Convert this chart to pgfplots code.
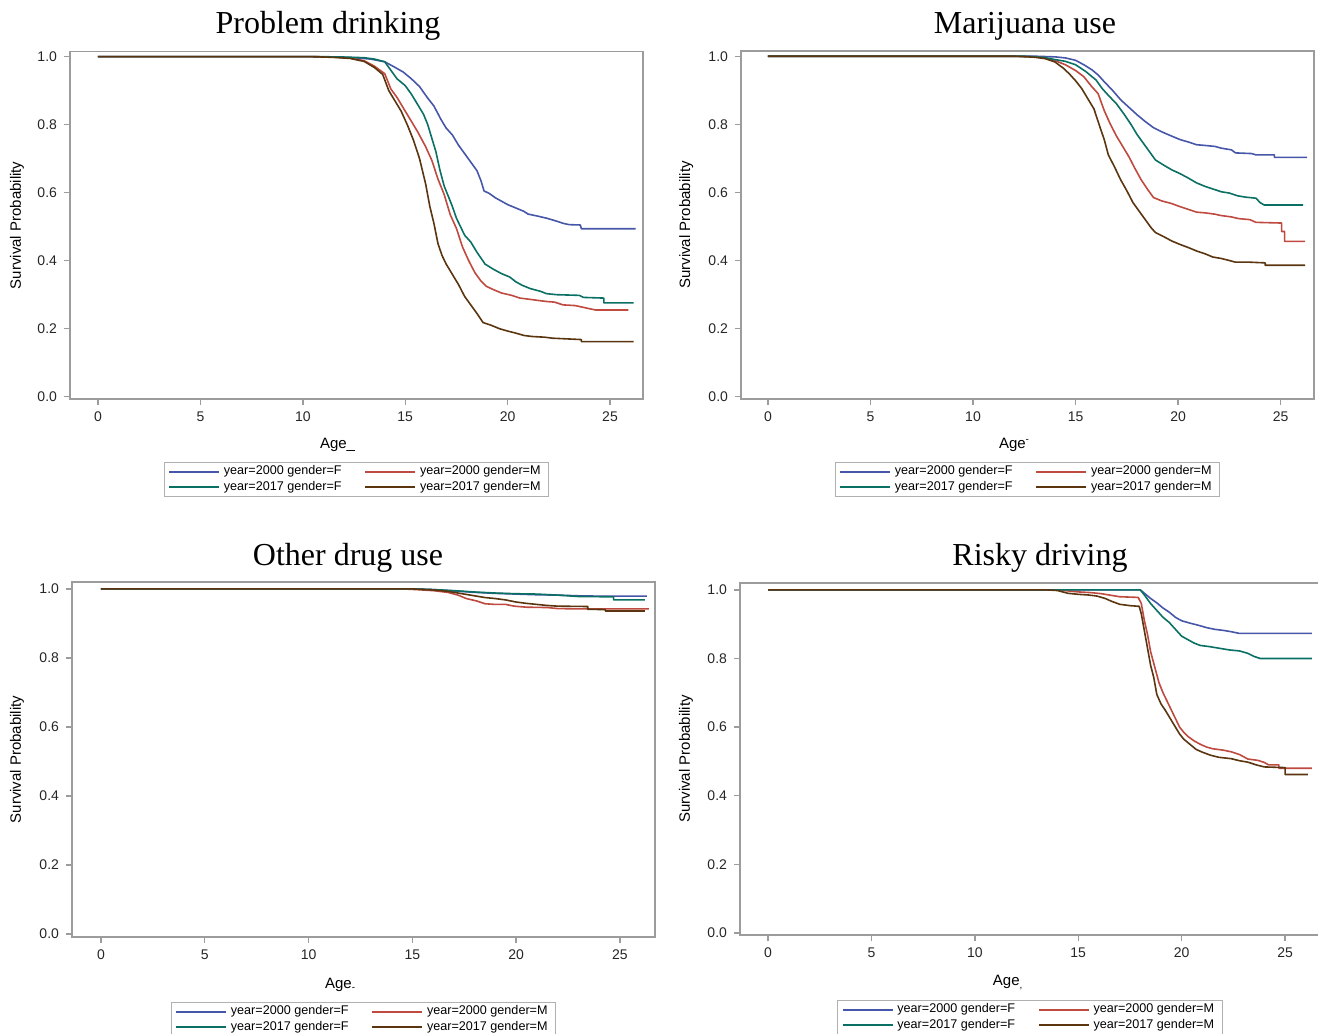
\documentclass[border=0pt]{standalone}
\usepackage{fontspec}
\setmainfont{Liberation Sans}
\newfontfamily\titlefont{Liberation Serif}
\usepackage{pgfplots}
\pgfplotsset{compat=1.18}
\definecolor{cblue}{HTML}{4656A8}
\definecolor{cred}{HTML}{BE4A40}
\definecolor{cgreen}{HTML}{0B7064}
\definecolor{cbrown}{HTML}{5A3510}
\definecolor{framegray}{HTML}{9C9C9C}
\definecolor{leggray}{HTML}{B0B0B0}
\pgfplotsset{
  km/.style={
    scale only axis,
    axis line style={color=framegray, line width=0.9pt},
    xtick={0,5,10,15,20,25},
    ytick={0,0.2,0.4,0.6,0.8,1},
    yticklabel style={/pgf/number format/.cd, fixed, fixed zerofill, precision=1},
    /pgf/number format/assume math mode=true,
    tick align=outside,
    xtick pos=bottom, ytick pos=left,
    major tick length=3pt,
    tick style={color=framegray, line width=0.7pt},
    ticklabel style={font=\fontsize{7}{8}\selectfont, text=black!85},
    label style={font=\fontsize{7.5}{9}\selectfont},
    every axis plot/.append style={sharp plot, line width=0.8pt, line join=round},
    legend columns=2,
    legend cell align=left,
    legend image code/.code={\draw[#1, line width=0.75pt] (0pt,0pt) -- (25pt,0pt);},
    legend style={at={(0.5,0)}, anchor=north, draw=leggray, line width=0.5pt,
      font=\fontsize{6.3}{7}\selectfont, inner xsep=2pt, inner ysep=0.8pt,
      nodes={inner xsep=2pt, inner ysep=0.8pt},
      /tikz/every even column/.append style={column sep=9.5pt}},
  }
}
\begin{document}
\begin{tikzpicture}
\useasboundingbox (0,0) rectangle (659pt,517pt);

% Panel 1: Problem drinking
\begin{axis}[km, at={(35pt,317.5pt)}, anchor=south west, width=286.5pt, height=173.75pt,
  xmin=-1.367, xmax=26.61, ymin=-0.0068, ymax=1.0153,
  ylabel={Survival Probability}, ylabel style={at={(axis description cs:-0.0925,0.5)}, anchor=center},
  xlabel={Age\_}, xlabel style={at={(axis description cs:0.424,0)}, anchor=base west, yshift=-25pt},
  legend style={yshift=-31.5pt}]
\addplot[cblue] coordinates {(0,1)(10.5,1)(11.5,0.999)(12.5,0.997)(13.3,0.993)(14.0,0.985)(14.4,0.972)(14.9,0.955)(15.3,0.935)(15.7,0.912)(16.1,0.878)(16.4,0.855)(16.75,0.815)(17.0,0.79)(17.3,0.77)(17.6,0.74)(17.9,0.715)(18.2,0.69)(18.5,0.665)(18.7,0.635)(18.85,0.605)(19.1,0.598)(19.4,0.585)(19.7,0.575)(20.0,0.565)(20.4,0.555)(20.8,0.545)(21.0,0.537)(21.4,0.532)(21.9,0.525)(22.3,0.518)(22.7,0.51)(23.0,0.506)(23.55,0.505)(23.6,0.494)(26.25,0.494)};
\addlegendentry{year=2000 gender=F}
\addplot[cred] coordinates {(0,1)(10.5,1)(11.5,0.999)(12.3,0.996)(13.0,0.988)(13.5,0.972)(14.0,0.95)(14.3,0.905)(14.6,0.88)(15.0,0.84)(15.3,0.81)(15.6,0.78)(16.0,0.735)(16.3,0.695)(16.6,0.64)(16.9,0.595)(17.2,0.535)(17.5,0.495)(17.8,0.44)(18.1,0.40)(18.4,0.365)(18.7,0.34)(18.95,0.325)(19.3,0.315)(19.7,0.305)(20.2,0.298)(20.6,0.29)(21.0,0.287)(21.5,0.283)(21.9,0.28)(22.3,0.278)(22.7,0.27)(23.3,0.268)(23.9,0.26)(24.3,0.255)(25.9,0.255)};
\addlegendentry{year=2000 gender=M}
\addplot[cgreen] coordinates {(0,1)(11,1)(12,0.999)(13,0.997)(13.5,0.993)(14.0,0.985)(14.3,0.96)(14.6,0.935)(15.0,0.915)(15.3,0.89)(15.6,0.86)(15.9,0.83)(16.1,0.8)(16.3,0.76)(16.5,0.72)(16.7,0.665)(16.9,0.62)(17.1,0.59)(17.3,0.56)(17.5,0.525)(17.7,0.50)(17.9,0.475)(18.2,0.455)(18.5,0.425)(18.9,0.39)(19.3,0.375)(19.7,0.362)(20.1,0.352)(20.4,0.338)(20.7,0.328)(21.1,0.318)(21.6,0.31)(21.9,0.303)(22.4,0.30)(23.5,0.298)(23.7,0.292)(24.7,0.29)(24.7,0.276)(26.15,0.276)};
\addlegendentry{year=2017 gender=F}
\addplot[cbrown] coordinates {(0,1)(10.5,1)(11.5,0.998)(12.3,0.995)(13.0,0.986)(13.5,0.968)(13.9,0.948)(14.2,0.9)(14.5,0.87)(14.8,0.84)(15.1,0.8)(15.4,0.755)(15.7,0.7)(16.0,0.625)(16.2,0.56)(16.4,0.51)(16.6,0.45)(16.8,0.415)(17.0,0.39)(17.3,0.36)(17.6,0.33)(17.9,0.295)(18.2,0.27)(18.5,0.245)(18.8,0.218)(19.2,0.21)(19.6,0.2)(20.0,0.193)(20.4,0.187)(20.8,0.18)(21.2,0.177)(21.8,0.175)(22.2,0.172)(22.9,0.17)(23.6,0.168)(23.6,0.162)(26.15,0.162)};
\addlegendentry{year=2017 gender=M}
\end{axis}

% Panel 2: Marijuana use
\begin{axis}[km, at={(370.5pt,317.5pt)}, anchor=south west, width=286.5pt, height=174pt,
  xmin=-1.316, xmax=26.63, ymin=-0.0068, ymax=1.0153,
  ylabel={Survival Probability}, ylabel style={at={(axis description cs:-0.0957,0.5)}, anchor=center},
  xlabel={Age\raisebox{3pt}{\tiny -}}, xlabel style={at={(axis description cs:0.438,0)}, anchor=base west, yshift=-25pt},
  legend style={yshift=-31.5pt}]
\addplot[cblue] coordinates {(0,1)(13,1)(14.0,0.998)(14.5,0.995)(15.0,0.988)(15.4,0.975)(15.8,0.96)(16.1,0.945)(16.4,0.925)(16.8,0.9)(17.2,0.872)(17.6,0.85)(18.0,0.828)(18.4,0.808)(18.8,0.79)(19.2,0.778)(19.7,0.765)(20.1,0.755)(20.5,0.748)(20.9,0.74)(21.3,0.738)(21.8,0.735)(22.1,0.73)(22.6,0.725)(22.8,0.716)(23.6,0.714)(23.8,0.71)(24.7,0.71)(24.7,0.703)(26.3,0.703)};
\addlegendentry{year=2000 gender=F}
\addplot[cred] coordinates {(0,1)(12,1)(13,0.998)(13.5,0.995)(14.0,0.987)(14.5,0.975)(15.0,0.958)(15.4,0.94)(15.8,0.91)(16.1,0.89)(16.4,0.84)(16.7,0.8)(17.0,0.765)(17.3,0.735)(17.6,0.705)(17.9,0.67)(18.2,0.637)(18.5,0.61)(18.8,0.585)(19.2,0.575)(19.7,0.567)(20.1,0.558)(20.5,0.55)(20.9,0.542)(21.3,0.54)(21.8,0.536)(22.1,0.532)(22.6,0.528)(22.95,0.523)(23.5,0.52)(23.8,0.512)(25.05,0.51)(25.05,0.485)(25.2,0.485)(25.2,0.456)(26.2,0.456)};
\addlegendentry{year=2000 gender=M}
\addplot[cgreen] coordinates {(0,1)(12.5,1)(13.5,0.996)(14.0,0.99)(14.5,0.985)(15.0,0.975)(15.5,0.955)(16.0,0.93)(16.3,0.905)(16.6,0.885)(17.0,0.86)(17.4,0.827)(17.7,0.8)(18.0,0.77)(18.3,0.745)(18.6,0.72)(18.9,0.695)(19.3,0.68)(19.7,0.666)(20.1,0.655)(20.5,0.642)(20.9,0.628)(21.3,0.618)(21.7,0.61)(22.1,0.602)(22.5,0.598)(22.9,0.59)(23.3,0.586)(23.8,0.583)(24.0,0.57)(24.2,0.563)(26.1,0.563)};
\addlegendentry{year=2017 gender=F}
\addplot[cbrown] coordinates {(0,1)(12,1)(13,0.997)(13.5,0.993)(14.0,0.983)(14.4,0.965)(14.7,0.948)(15.0,0.928)(15.3,0.905)(15.6,0.875)(15.9,0.845)(16.2,0.79)(16.4,0.755)(16.6,0.71)(16.9,0.675)(17.2,0.637)(17.5,0.605)(17.8,0.57)(18.1,0.545)(18.4,0.52)(18.7,0.495)(18.9,0.482)(19.3,0.47)(19.7,0.457)(20.1,0.447)(20.5,0.438)(20.9,0.428)(21.3,0.42)(21.7,0.41)(22.1,0.406)(22.5,0.4)(22.8,0.395)(23.5,0.395)(24.25,0.393)(24.25,0.386)(26.2,0.386)};
\addlegendentry{year=2017 gender=M}
\end{axis}

% Panel 3: Other drug use
\begin{axis}[km, at={(36pt,48.5pt)}, anchor=south west, width=291.5pt, height=177.5pt,
  xmin=-1.397, xmax=26.69, ymin=-0.0087, ymax=1.020,
  ylabel={Survival Probability}, ylabel style={at={(axis description cs:-0.0943,0.5)}, anchor=center},
  xlabel={Age\raisebox{-1pt}{\tiny -}}, xlabel style={at={(axis description cs:0.422,0)}, anchor=base west, yshift=-25.5pt},
  legend style={yshift=-32.5pt}]
\addplot[cblue] coordinates {(0,1)(15,1)(16,0.998)(17,0.994)(18,0.99)(19,0.987)(20,0.985)(21,0.983)(22,0.982)(23,0.98)(24,0.979)(26.3,0.979)};
\addlegendentry{year=2000 gender=F}
\addplot[cred] coordinates {(0,1)(14.5,1)(15.2,0.998)(16.0,0.995)(16.7,0.99)(17.2,0.982)(17.6,0.972)(18.1,0.965)(18.5,0.957)(19.0,0.955)(19.5,0.955)(19.9,0.95)(20.5,0.947)(21.5,0.946)(22.0,0.943)(23.0,0.942)(26.4,0.942)};
\addlegendentry{year=2000 gender=M}
\addplot[cgreen] coordinates {(0,1)(15,1)(16,0.998)(17,0.995)(18,0.991)(19,0.988)(20,0.986)(21,0.985)(22,0.982)(23,0.978)(24.7,0.977)(24.7,0.968)(26.2,0.968)};
\addlegendentry{year=2017 gender=F}
\addplot[cbrown] coordinates {(0,1)(15,1)(16,0.997)(16.7,0.993)(17.3,0.987)(17.9,0.981)(18.5,0.975)(19.0,0.972)(19.5,0.968)(20.0,0.962)(20.5,0.958)(21.0,0.955)(21.5,0.952)(22.0,0.95)(23.45,0.949)(23.45,0.941)(24.3,0.94)(24.3,0.936)(26.2,0.936)};
\addlegendentry{year=2017 gender=M}
\end{axis}

% Panel 4: Risky driving
\begin{axis}[km, at={(370pt,49.5pt)}, anchor=south west, width=290pt, height=176pt,
  xmin=-1.354, xmax=26.69, ymin=-0.0058, ymax=1.020,
  ylabel={Survival Probability}, ylabel style={at={(axis description cs:-0.093,0.5)}, anchor=center},
  xlabel={Age\raisebox{-1.5pt}{\tiny ,}}, xlabel style={at={(axis description cs:0.424,0)}, anchor=base west, yshift=-25pt},
  legend style={yshift=-32.5pt}]
\addplot[cblue] coordinates {(0,1)(18.0,1)(18.2,0.99)(18.5,0.975)(18.8,0.962)(19.1,0.947)(19.4,0.935)(19.7,0.92)(20.0,0.91)(20.4,0.903)(20.8,0.897)(21.2,0.89)(21.6,0.885)(22.0,0.882)(22.4,0.878)(22.8,0.873)(26.3,0.873)};
\addlegendentry{year=2000 gender=F}
\addplot[cred] coordinates {(0,1)(14,1)(14.5,0.997)(15.0,0.994)(15.6,0.992)(16.1,0.989)(16.6,0.984)(17.0,0.98)(17.9,0.978)(18.05,0.96)(18.2,0.91)(18.35,0.87)(18.5,0.82)(18.7,0.775)(18.9,0.73)(19.1,0.7)(19.3,0.675)(19.5,0.65)(19.7,0.625)(19.9,0.6)(20.1,0.585)(20.3,0.573)(20.6,0.56)(20.9,0.55)(21.2,0.542)(21.5,0.537)(22.0,0.533)(22.4,0.528)(22.8,0.52)(23.2,0.507)(23.7,0.503)(24.0,0.497)(24.2,0.49)(24.7,0.49)(24.7,0.48)(26.3,0.48)};
\addlegendentry{year=2000 gender=M}
\addplot[cgreen] coordinates {(0,1)(18.0,1)(18.2,0.985)(18.5,0.96)(18.8,0.94)(19.1,0.92)(19.4,0.905)(19.7,0.885)(20.0,0.865)(20.3,0.855)(20.6,0.845)(20.9,0.838)(21.3,0.835)(21.8,0.83)(22.3,0.825)(22.8,0.822)(23.2,0.815)(23.5,0.806)(23.8,0.8)(26.3,0.8)};
\addlegendentry{year=2017 gender=F}
\addplot[cbrown] coordinates {(0,1)(13.5,1)(14.0,0.998)(14.5,0.99)(15.0,0.987)(15.5,0.985)(15.9,0.982)(16.3,0.975)(16.6,0.967)(17.0,0.958)(17.5,0.954)(17.95,0.952)(18.05,0.93)(18.2,0.88)(18.35,0.83)(18.5,0.78)(18.65,0.745)(18.8,0.695)(19.0,0.668)(19.2,0.65)(19.5,0.62)(19.7,0.6)(19.9,0.58)(20.1,0.565)(20.4,0.55)(20.7,0.535)(21.0,0.527)(21.4,0.518)(21.8,0.512)(22.4,0.508)(22.8,0.502)(23.2,0.498)(23.6,0.49)(24.0,0.484)(25.0,0.482)(25.0,0.462)(26.1,0.462)};
\addlegendentry{year=2017 gender=M}
\end{axis}

% Panel titles
\node[font=\titlefont\fontsize{16}{19}\selectfont, anchor=base] at (164pt,500pt) {Problem drinking};
\node[font=\titlefont\fontsize{16}{19}\selectfont, anchor=base] at (512.5pt,500pt) {Marijuana use};
\node[font=\titlefont\fontsize{16}{19}\selectfont, anchor=base] at (174pt,234pt) {Other drug use};
\node[font=\titlefont\fontsize{16}{19}\selectfont, anchor=base] at (520pt,234pt) {Risky driving};
\end{tikzpicture}
\end{document}
